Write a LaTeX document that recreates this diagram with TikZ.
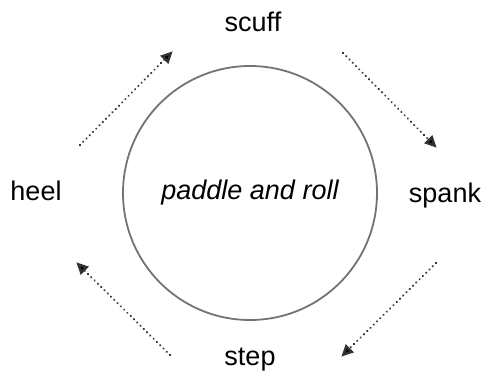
\documentclass[tikz,border=0pt]{standalone}
\usepackage{fontspec}
\setmainfont{Liberation Sans}
\usetikzlibrary{arrows.meta}
\begin{document}
\begin{tikzpicture}[x=1pt,y=-1pt,
  lbl/.style={font=\fontsize{27}{30}\selectfont, inner sep=0pt},
  flow/.style={line width=2.4pt, line cap=round, dash pattern=on 0.01pt off 4.6pt, draw=black!80,
    -{Triangle[length=12pt,width=11pt,fill=black,line cap=butt,sep=-1pt]}},
  ring/.style={circle, draw=black!55, line width=1.8pt, minimum size=254pt, inner sep=0pt}]
\useasboundingbox (0,0) rectangle (482,381);
\node[ring] (c) at (250,193) {};
\node[lbl] (mid) at (250,193) {\itshape paddle and roll};
\node[lbl] (scuff) at (253,22) {scuff};
\node[lbl] (spank) at (445,196) {spank};
\node[lbl] (step) at (250,360) {step};
\node[lbl] (heel) at (36,191) {heel};
\coordinate (a1) at (80,145); \coordinate (b1) at (172,52);
\coordinate (a2) at (343,53); \coordinate (b2) at (436,147);
\coordinate (a3) at (436,263); \coordinate (b3) at (342,356);
\coordinate (a4) at (170,355); \coordinate (b4) at (77,263);
\draw[flow] (a1) -- (b1);
\draw[flow] (a2) -- (b2);
\draw[flow] (a3) -- (b3);
\draw[flow] (a4) -- (b4);
\end{tikzpicture}
\end{document}
